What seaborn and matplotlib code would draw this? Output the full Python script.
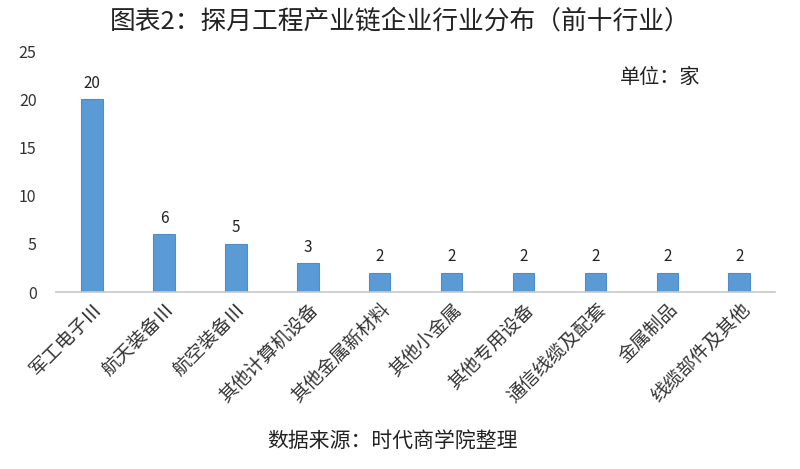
import numpy as np
import pandas as pd
import matplotlib
matplotlib.use('Agg')
import matplotlib.pyplot as plt
import seaborn as sns

# data
industries = ['军工电子Ⅲ', '航天装备Ⅲ', '航空装备Ⅲ', '其他计算机设备', '其他金属新材料',
              '其他小金属', '其他专用设备', '通信线缆及配套', '金属制品', '线缆部件及其他']
counts = [20, 6, 5, 3, 2, 2, 2, 2, 2, 2]
yticks = [0, 5, 10, 15, 20, 25]

df = pd.DataFrame({'industry': industries, 'count': counts})

sns.set_theme(style='white')
plt.rcParams['font.family'] = ['Noto Sans CJK SC', 'DejaVu Sans']

fig = plt.figure(figsize=(8, 4.69), dpi=100)
ax = fig.add_axes([0.07, 0.377, 0.899, 0.514])

sns.barplot(data=df, x='industry', y='count', color='#5B9BD5', saturation=1, width=0.3,
            edgecolor='#4F8CC9', linewidth=0.8, ax=ax)

for i, v in enumerate(counts):
    ax.text(i, v + 0.8, str(v), ha='center', va='bottom', fontsize=11, color='#222222')

ax.set_ylim(0, 25)
ax.set_xlim(-0.5, len(industries) - 0.5)
ax.set_yticks(yticks)
ax.set_xlabel('')
ax.set_ylabel('')
ax.tick_params(axis='y', labelsize=11.5, colors='#333333', length=0, pad=14)
ax.tick_params(axis='x', labelsize=13.5, colors='#333333', length=0, pad=5)
plt.setp(ax.get_xticklabels(), rotation=45, ha='right', rotation_mode='anchor')

for s in ['top', 'right', 'left']:
    ax.spines[s].set_visible(False)
ax.spines['bottom'].set_color('#C8C8C8')
ax.spines['bottom'].set_linewidth(1.2)

fig.text(0.5, 0.955, '图表2：探月工程产业链企业行业分布（前十行业）', ha='center', va='center',
         fontsize=18.5, color='#222222')
fig.text(0.775, 0.835, '单位：家', ha='left', va='center', fontsize=14.5, color='#222222')
fig.text(0.49, 0.06, '数据来源：时代商学院整理', ha='center', va='center', fontsize=15,
         color='#222222')

fig.savefig('out.png', dpi=100)
